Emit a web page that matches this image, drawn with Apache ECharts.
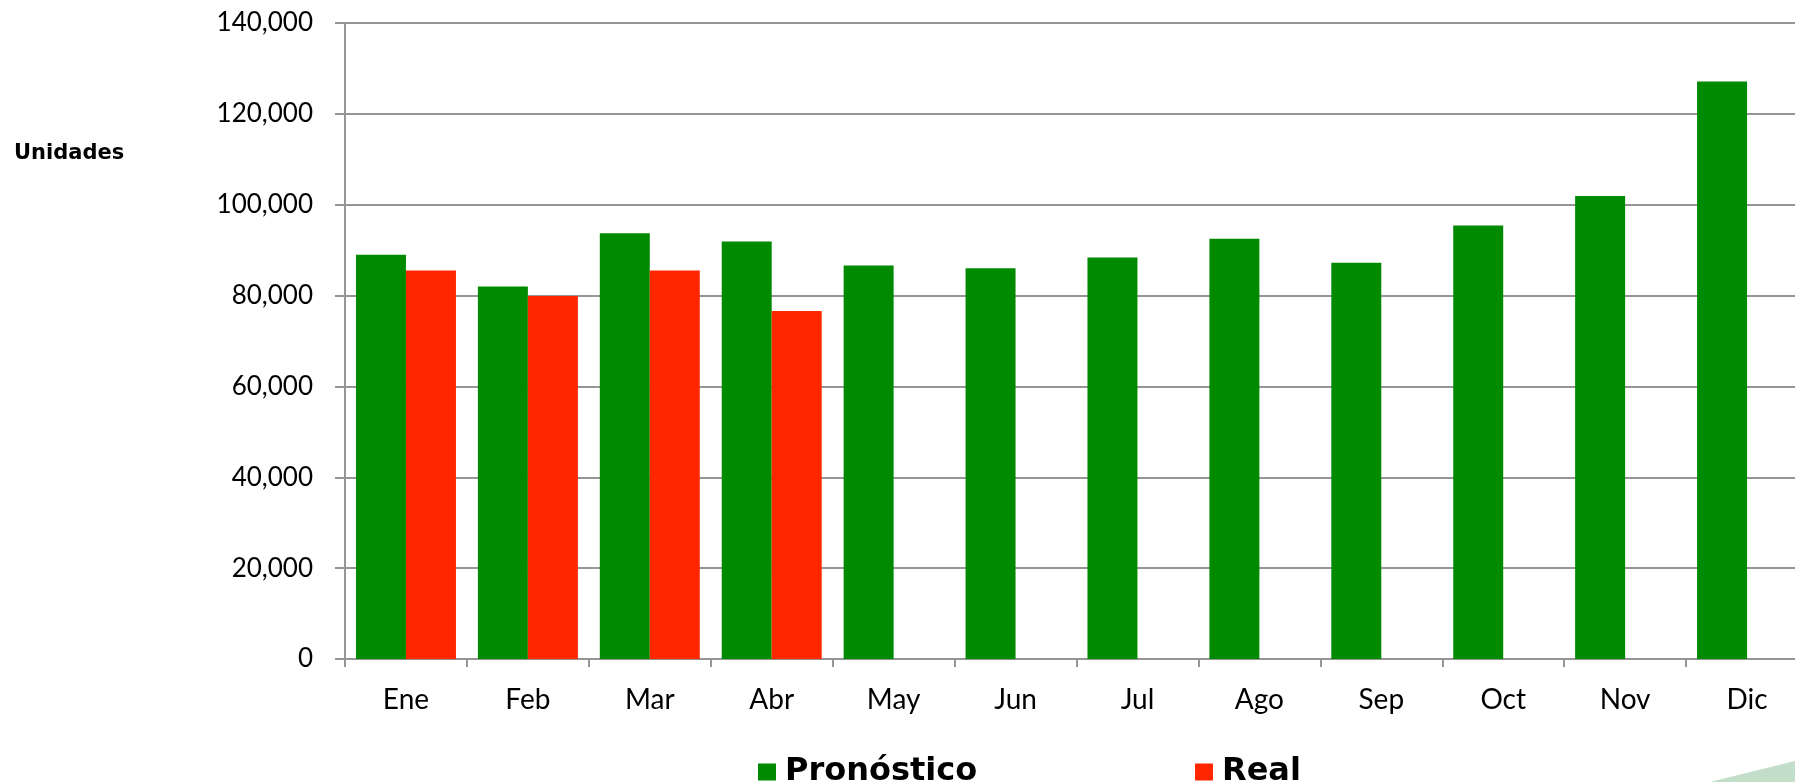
<!DOCTYPE html>
<html>
<head>
<meta charset="utf-8">
<script src="https://cdn.jsdelivr.net/npm/echarts@6/dist/echarts.min.js"></script>
<style>
	html, body { margin: 0; padding: 0; background: #fff; }
	#chart { width: 1795px; height: 782px; }
</style>
</head>
<body>
<div id="chart"></div>
<script>
var meses = ['Ene', 'Feb', 'Mar', 'Abr', 'May', 'Jun', 'Jul', 'Ago', 'Sep', 'Oct', 'Nov', 'Dic'];
var pronostico = [89000, 82000, 93700, 91900, 86600, 86000, 88400, 92500, 87200, 95400, 101900, 127100];
var real = [85500, 79900, 85500, 76600, '-', '-', '-', '-', '-', '-', '-', '-'];

var chart = echarts.init(document.getElementById('chart'));

var FONT = 'Lato';
var FONT_BOLD = 'DejaVu Sans';
var gris = '#959595';

function miles(v) {
	return String(v).replace(/\B(?=(\d{3})+(?!\d))/g, ',');
}

var leyendaTexto = { fontFamily: FONT_BOLD, fontSize: 32, fontWeight: 'bold', color: '#000', padding: [0, 0, 0, 4] };

var option = {
	animation: false,
	textStyle: { fontFamily: FONT },
	color: ['#008a00', '#ff2600'],
	title: {
		text: 'Unidades',
		left: 9,
		top: 138,
		textStyle: {
			fontFamily: FONT_BOLD,
			fontSize: 21,
			fontWeight: 'bold',
			color: '#000'
		}
	},
	grid: {
		left: 345,
		top: 23,
		width: 1463,
		height: 636,
		outerBoundsMode: 'none'
	},
	legend: [{
		data: ['Pronóstico'],
		left: 753,
		top: 751,
		icon: 'rect',
		itemWidth: 18,
		itemHeight: 17,
		itemGap: 8,
		textStyle: leyendaTexto
	}, {
		data: ['Real'],
		left: 1190,
		top: 751,
		icon: 'rect',
		itemWidth: 18,
		itemHeight: 17,
		itemGap: 8,
		textStyle: leyendaTexto
	}],
	xAxis: {
		type: 'category',
		data: meses,
		axisLine: { lineStyle: { color: gris, width: 2 } },
		axisTick: { show: true, length: 8, lineStyle: { color: gris, width: 2 } },
		axisLabel: { color: '#000', fontSize: 28, fontFamily: FONT, margin: 27 },
		splitLine: { show: false }
	},
	yAxis: {
		type: 'value',
		min: 0,
		max: 140000,
		interval: 20000,
		axisLine: { show: true, lineStyle: { color: gris, width: 2 } },
		axisTick: { show: true, length: 10, lineStyle: { color: gris, width: 2 } },
		axisLabel: {
			color: '#000',
			fontSize: 26,
			fontFamily: FONT,
			margin: 32,
			formatter: function (v) { return miles(v); }
		},
		splitLine: { show: true, lineStyle: { color: gris, width: 2 } }
	},
	series: [{
		name: 'Pronóstico',
		type: 'bar',
		barGap: 0,
		barCategoryGap: '18%',
		data: pronostico,
		itemStyle: { color: '#008a00' }
	}, {
		name: 'Real',
		type: 'bar',
		barGap: 0,
		barCategoryGap: '18%',
		data: real,
		itemStyle: { color: '#ff2600' }
	}],
	graphic: [{
		type: 'polygon',
		silent: true,
		z: -1,
		shape: { points: [[1710, 782], [1795, 761], [1795, 782]] },
		style: { fill: '#c3dec8' }
	}]
};

chart.setOption(option);
</script>
</body>
</html>
